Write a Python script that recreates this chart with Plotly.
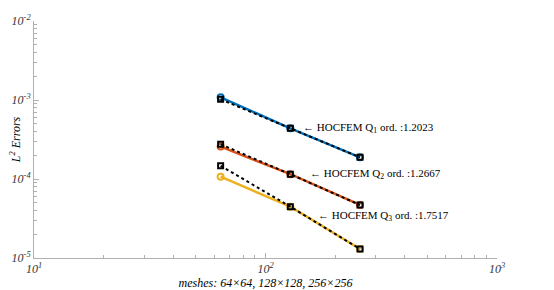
import math
import plotly.graph_objects as go

meshes = [64, 128, 256]
q1_hocfem = [1.08e-3, 4.38e-4, 1.88e-4]
q1_ref = [1.02e-3, 4.38e-4, 1.88e-4]
q2_hocfem = [2.57e-4, 1.15e-4, 4.69e-5]
q2_ref = [2.75e-4, 1.15e-4, 4.69e-5]
q3_hocfem = [1.07e-4, 4.46e-5, 1.30e-5]
q3_ref = [1.47e-4, 4.46e-5, 1.30e-5]
orders = ["1.2023", "1.2667", "1.7517"]
labels = ["Q<sub>1</sub>", "Q<sub>2</sub>", "Q<sub>3</sub>"]
colors = ["#0072BD", "#D95319", "#EDB120"]
label_x = [143, 153, 165]
label_y = [4.43e-4, 1.16e-4, 3.4e-5]

FONT = "Liberation Serif, Times New Roman, serif"
fig = go.Figure()
for hv, rv, c in [(q1_hocfem, q1_ref, colors[0]), (q2_hocfem, q2_ref, colors[1]), (q3_hocfem, q3_ref, colors[2])]:
    fig.add_trace(go.Scatter(x=meshes, y=hv, mode="lines+markers",
                             line=dict(color=c, width=2.5),
                             marker=dict(symbol="circle-open", size=6, color=c, line=dict(width=2)),
                             showlegend=False))
    fig.add_trace(go.Scatter(x=meshes, y=rv, mode="lines+markers",
                             line=dict(color="black", width=2, dash="dot"),
                             marker=dict(symbol="square-open", size=5, color="black", line=dict(width=2)),
                             showlegend=False))

for lx, ly, lab, o in zip(label_x, label_y, labels, orders):
    fig.add_annotation(x=math.log10(lx), y=math.log10(ly),
                       xref="x", yref="y", text="\u2190 HOCFEM " + lab + " ord. :" + o,
                       showarrow=False, xanchor="left", yanchor="middle",
                       font=dict(family=FONT, size=11, color="black"))

ytv = [1e-5, 1e-4, 1e-3, 1e-2]
ytt = ["<i>10<sup>-5</sup></i>", "<i>10<sup>-4</sup></i>", "<i>10<sup>-3</sup></i>", "<i>10<sup>-2</sup></i>"]
xtv = [10, 100, 1000]
xtt = ["<i>10<sup>1</sup></i>", "<i>10<sup>2</sup></i>", "<i>10<sup>3</sup></i>"]
yminor = [m * 10**e for e in (-5, -4, -3) for m in range(2, 10)]
xminor = [m * 10**e for e in (1, 2) for m in range(2, 10)]

axcol = "#b0b0b0"
fig.update_xaxes(type="log", range=[1, 3], tickvals=xtv, ticktext=xtt, automargin=False,
                 showline=True, linecolor=axcol, linewidth=1, ticks="inside", ticklen=5,
                 tickcolor=axcol, showgrid=False, zeroline=False,
                 minor=dict(tickvals=xminor, ticks="inside", ticklen=3, tickcolor=axcol, showgrid=False),
                 tickfont=dict(family=FONT, size=12, color="#333"),
                 title=dict(text="<i>meshes: 64\u00d764, 128\u00d7128, 256\u00d7256</i>",
                            font=dict(family=FONT, size=12, color="black"), standoff=0))
fig.update_yaxes(type="log", range=[-5, -2], tickvals=ytv, ticktext=ytt, automargin=False,
                 showline=True, linecolor=axcol, linewidth=1, ticks="inside", ticklen=5,
                 tickcolor=axcol, showgrid=False, zeroline=False,
                 minor=dict(tickvals=yminor, ticks="inside", ticklen=3, tickcolor=axcol, showgrid=False),
                 tickfont=dict(family=FONT, size=12, color="#333"),
                 title=dict(text="<i>L<sup>2</sup> Errors</i>",
                            font=dict(family=FONT, size=12, color="black"), standoff=0))
fig.update_layout(width=546, height=282, margin=dict(l=26, r=57, t=13, b=32),
                  plot_bgcolor="white", paper_bgcolor="white")
fig.write_html("out.html")
